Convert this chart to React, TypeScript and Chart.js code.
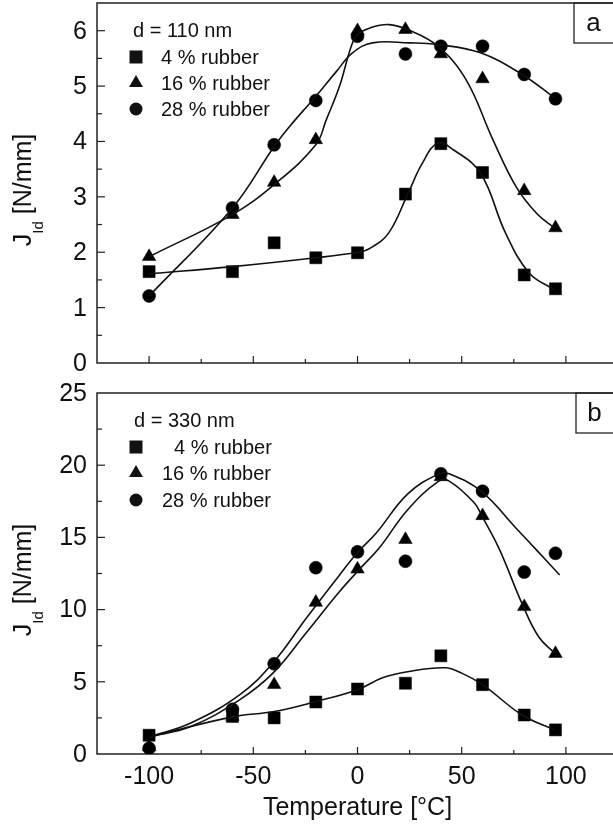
import React, { useEffect, useRef } from "react";
import { Chart, registerables } from "chart.js";
Chart.register(...registerables);

const FONT = '"Liberation Sans", Arial, Helvetica, sans-serif';
const INK = "#111";

// shared
const temperatures = [-100, -60, -40, -20, 0, 23, 40, 60, 80, 95];
const xTickLabels = [-100, -50, 0, 50, 100];
const xTickMarks = [-125, -100, -75, -50, -25, 0, 25, 50, 75, 100, 125];
const seriesNames = ["4 % rubber", "16 % rubber", "28 % rubber"];

// panel a : d = 110 nm
const yTicksA = [0, 1, 2, 3, 4, 5, 6];
const a_rubber4 = [1.65, 1.65, 2.17, 1.9, 1.99, 3.05, 3.96, 3.44, 1.59, 1.34];
const a_rubber16 = [1.92, 2.68, 3.26, 4.03, 6.0, 6.02, 5.58, 5.13, 3.11, 2.44];
const a_rubber28 = [1.21, 2.8, 3.94, 4.74, 5.9, 5.58, 5.72, 5.72, 5.21, 4.77];
const a_fit4_x = [-100, -60, -20, 0, 6, 15, 24, 31, 38.5, 46, 59, 71, 82.5, 94.5];
const a_fit4_y = [1.61, 1.74, 1.9, 2.0, 2.07, 2.35, 3.04, 3.6, 3.97, 3.85, 3.43, 2.35, 1.62, 1.32];
const a_fit16_x = [-100, -60, -40, -20, -15, -8.6, -3, 0, 6, 15, 24, 38.5, 52, 65, 76, 86, 94.5];
const a_fit16_y = [1.92, 2.68, 3.22, 3.94, 4.39, 5.0, 5.72, 5.93, 6.05, 6.11, 6.02, 5.72, 5.12, 4.03, 3.19, 2.7, 2.44];
const a_fit28_x = [-100, -60, -40, -32.6, -20.6, -10, -2.4, 7.2, 25, 38.5, 59, 79, 94.5];
const a_fit28_y = [1.21, 2.8, 3.91, 4.27, 4.79, 5.27, 5.6, 5.78, 5.78, 5.75, 5.6, 5.21, 4.79];

// panel b : d = 330 nm
const yTicksB = [0, 5, 10, 15, 20, 25];
const b_rubber4 = [1.3, 2.6, 2.5, 3.6, 4.5, 4.9, 6.8, 4.8, 2.7, 1.67];
const b_rubber16 = [0.5, 2.6, 4.8, 10.5, 12.8, 14.85, 19.2, 16.5, 10.2, 6.95];
const b_rubber28 = [0.4, 3.1, 6.25, 12.9, 14.0, 13.35, 19.4, 18.2, 12.6, 13.9];
const b_fit4_x = [-100, -60, -40, -20, 0, 12, 24, 42, 50, 60, 79, 94.5];
const b_fit4_y = [1.18, 2.57, 2.94, 3.63, 4.45, 5.28, 5.7, 5.97, 5.6, 4.8, 2.7, 1.67];
const b_fit16_x = [-100, -80, -56.6, -40.6, -24.6, -8.6, 1, 10.6, 24, 39, 44, 56, 60, 68, 79, 87, 94.5];
const b_fit16_y = [1.18, 1.9, 3.75, 5.6, 8.4, 11.25, 12.8, 14.3, 16.9, 18.9, 18.9, 17.4, 16.4, 14.2, 10.4, 8.1, 7.0];
const b_fit28_x = [-100, -80, -56.6, -40.6, -24.6, -8.6, 0, 9, 24, 39, 44, 59.3, 76, 86.4, 97];
const b_fit28_y = [1.18, 2.15, 4.1, 6.3, 9.4, 12.4, 13.95, 15.3, 18.0, 19.4, 19.4, 18.2, 15.65, 14.05, 12.4];

type Panel = {
  id: string;
  canvasTop: number;
  canvasH: number;
  padTop: number;
  xAxisH: number;
  showX: boolean;
  ymax: number;
  yTicks: number[];
  letter: string;
  boxLeft: number;
  boxH: number;
  header: string;
  headerX: number;
  headerY: number;
  rowY: number[];
  textX: number[];
  titleCY: number;
  xTitle: boolean;
  fits: [number[], number[]][];
  pts: number[][];
};

const panelA: Panel = {
  id: "a", canvasTop: 0, canvasH: 385, padTop: 3, xAxisH: 22, showX: false,
  ymax: 6.5, yTicks: yTicksA, letter: "a", boxLeft: 574, boxH: 40,
  header: "d = 110 nm", headerX: 133, headerY: 37, rowY: [57, 83, 109], textX: [161, 161, 161],
  titleCY: 190, xTitle: false,
  fits: [[a_fit4_x, a_fit4_y], [a_fit16_x, a_fit16_y], [a_fit28_x, a_fit28_y]],
  pts: [a_rubber4, a_rubber16, a_rubber28],
};

const panelB: Panel = {
  id: "b", canvasTop: 378, canvasH: 448, padTop: 15, xAxisH: 72, showX: true,
  ymax: 25, yTicks: yTicksB, letter: "b", boxLeft: 576, boxH: 40,
  header: "d = 330 nm", headerX: 134, headerY: 427, rowY: [447, 473, 500], textX: [174, 162, 162],
  titleCY: 580, xTitle: true,
  fits: [[b_fit4_x, b_fit4_y], [b_fit16_x, b_fit16_y], [b_fit28_x, b_fit28_y]],
  pts: [b_rubber4, b_rubber16, b_rubber28],
};

const styles = ["rect", "triangle", "circle"];
const radii = [8.5, 7.8, 6.5];

function drawMarker(ctx: CanvasRenderingContext2D, kind: number, x: number, y: number) {
  ctx.beginPath();
  if (kind === 0) {
    ctx.rect(x - 6.5, y - 6.5, 13, 13);
  } else if (kind === 1) {
    const r = 8;
    ctx.moveTo(x, y - r);
    ctx.lineTo(x - r * 0.866, y + r / 2);
    ctx.lineTo(x + r * 0.866, y + r / 2);
    ctx.closePath();
  } else {
    ctx.arc(x, y, 6.5, 0, Math.PI * 2);
  }
  ctx.fill();
}

function decor(p: Panel) {
  return {
    id: "decor" + p.id,
    beforeDatasetsDraw(chart: any) {
      const { ctx, chartArea: a, scales } = chart;
      const x = scales.x, y = scales.y;
      const t = p.canvasTop;
      ctx.save();
      ctx.strokeStyle = "#222";
      ctx.lineWidth = 1.5;
      ctx.strokeRect(a.left, a.top, a.right - a.left, a.bottom - a.top);
      ctx.lineWidth = 1.2;
      const step = p.yTicks[1] - p.yTicks[0];
      const marks: [number, boolean][] = [];
      p.yTicks.forEach((v) => {
        marks.push([v, true]);
        marks.push([v + step / 2, false]);
      });
      marks.forEach(([v, major]) => {
        if (v <= 0 || v >= p.ymax) return;
        const py = y.getPixelForValue(v);
        ctx.beginPath();
        ctx.moveTo(a.left, py);
        ctx.lineTo(a.left + (major ? 8 : 5), py);
        ctx.stroke();
      });
      xTickMarks.forEach((v) => {
        if (v <= -125 || v >= 125) return;
        const major = xTickLabels.includes(v);
        const px = x.getPixelForValue(v);
        ctx.beginPath();
        ctx.moveTo(px, a.bottom);
        ctx.lineTo(px, a.bottom - (major ? 7 : 4));
        ctx.stroke();
      });
      // tick labels
      ctx.fillStyle = INK;
      ctx.font = `25px ${FONT}`;
      ctx.textAlign = "right";
      ctx.textBaseline = "middle";
      p.yTicks.forEach((v) => {
        ctx.fillText(String(v), a.left - 10, y.getPixelForValue(v) + 1);
      });
      if (p.showX) {
        ctx.textAlign = "center";
        ctx.textBaseline = "alphabetic";
        xTickLabels.forEach((v) => {
          ctx.fillText(String(v), x.getPixelForValue(v), 784 - t);
        });
      }
      // letter box
      ctx.lineWidth = 1.3;
      ctx.strokeRect(p.boxLeft, a.top, a.right - p.boxLeft, p.boxH);
      ctx.font = `26px ${FONT}`;
      ctx.textAlign = "center";
      ctx.textBaseline = "middle";
      ctx.fillText(p.letter, (p.boxLeft + 613) / 2, a.top + p.boxH / 2 + 1);
      ctx.restore();
    },
    afterDraw(chart: any) {
      const { ctx, chartArea: a } = chart;
      const t = p.canvasTop;
      ctx.save();
      ctx.fillStyle = INK;
      ctx.font = `20px ${FONT}`;
      ctx.textAlign = "left";
      ctx.textBaseline = "alphabetic";
      ctx.fillText(p.header, p.headerX, p.headerY - t);
      seriesNames.forEach((name, i) => {
        drawMarker(ctx, i, 136, p.rowY[i] - t);
        ctx.fillText(name, p.textX[i], p.rowY[i] - t + 7);
      });
      ctx.save();
      ctx.translate(0, p.titleCY - t);
      ctx.rotate(-Math.PI / 2);
      const main = `25px ${FONT}`;
      const sub = `15px ${FONT}`;
      ctx.font = main;
      const wJ = ctx.measureText("J").width;
      const wR = ctx.measureText(" [N/mm]").width;
      ctx.font = sub;
      const wS = ctx.measureText("Id").width;
      let sx = -(wJ + wS + wR) / 2;
      ctx.font = main;
      ctx.fillText("J", sx, 31);
      sx += wJ;
      ctx.font = sub;
      ctx.fillText("Id", sx, 43);
      sx += wS;
      ctx.font = main;
      ctx.fillText(" [N/mm]", sx, 31);
      ctx.restore();
      if (p.xTitle) {
        ctx.font = `25px ${FONT}`;
        ctx.textAlign = "center";
        ctx.fillText("Temperature [°C]", (a.left + a.right) / 2, 815 - t);
      }
      ctx.restore();
    },
  };
}

function buildConfig(p: Panel): any {
  const curves = p.fits.map(([xs, ys]) => ({
    data: xs.map((v, i) => ({ x: v, y: ys[i] })),
    showLine: true,
    borderColor: INK,
    borderWidth: 1.6,
    pointRadius: 0,
    tension: 0.4,
    fill: false,
  }));
  const points = p.pts.map((vals, k) => ({
    data: temperatures.map((v, i) => ({ x: v, y: vals[i] })),
    showLine: false,
    pointStyle: styles[k],
    pointRadius: radii[k],
    backgroundColor: "#000",
    borderColor: "#000",
    pointBorderWidth: 0.5,
  }));
  return {
    type: "scatter",
    data: { datasets: [...curves, ...points] },
    options: {
      animation: false,
      responsive: false,
      devicePixelRatio: 1,
      layout: { autoPadding: false, padding: { left: 0, right: 22, top: p.padTop, bottom: 0 } },
      plugins: { legend: { display: false }, tooltip: { enabled: false } },
      scales: {
        x: {
          type: "linear",
          min: -125,
          max: 125,
          grid: { display: false, drawTicks: false },
          border: { display: false },
          ticks: { display: false },
          afterBuildTicks: (s: any) => {
            s.ticks = xTickLabels.map((v) => ({ value: v }));
          },
          afterFit: (s: any) => {
            s.height = p.xAxisH;
          },
        },
        y: {
          type: "linear",
          min: 0,
          max: p.ymax,
          grid: { display: false, drawTicks: false },
          border: { display: false },
          ticks: { display: false },
          afterBuildTicks: (s: any) => {
            s.ticks = p.yTicks.map((v) => ({ value: v }));
          },
          afterFit: (s: any) => {
            s.width = 97;
          },
        },
      },
    },
    plugins: [decor(p)],
  };
}

export default function App() {
  const r1 = useRef<HTMLCanvasElement | null>(null);
  const r2 = useRef<HTMLCanvasElement | null>(null);
  useEffect(() => {
    const c1 = new Chart(r1.current as HTMLCanvasElement, buildConfig(panelA));
    const c2 = new Chart(r2.current as HTMLCanvasElement, buildConfig(panelB));
    return () => {
      c1.destroy();
      c2.destroy();
    };
  }, []);
  return (
    <div style={{ position: "absolute", left: 0, top: 0, width: 613, height: 826, overflow: "hidden", background: "#fff" }}>
      <canvas ref={r1} width={640} height={panelA.canvasH}
        style={{ position: "absolute", left: 0, top: panelA.canvasTop, width: 640, height: panelA.canvasH }} />
      <canvas ref={r2} width={640} height={panelB.canvasH}
        style={{ position: "absolute", left: 0, top: panelB.canvasTop, width: 640, height: panelB.canvasH }} />
    </div>
  );
}
